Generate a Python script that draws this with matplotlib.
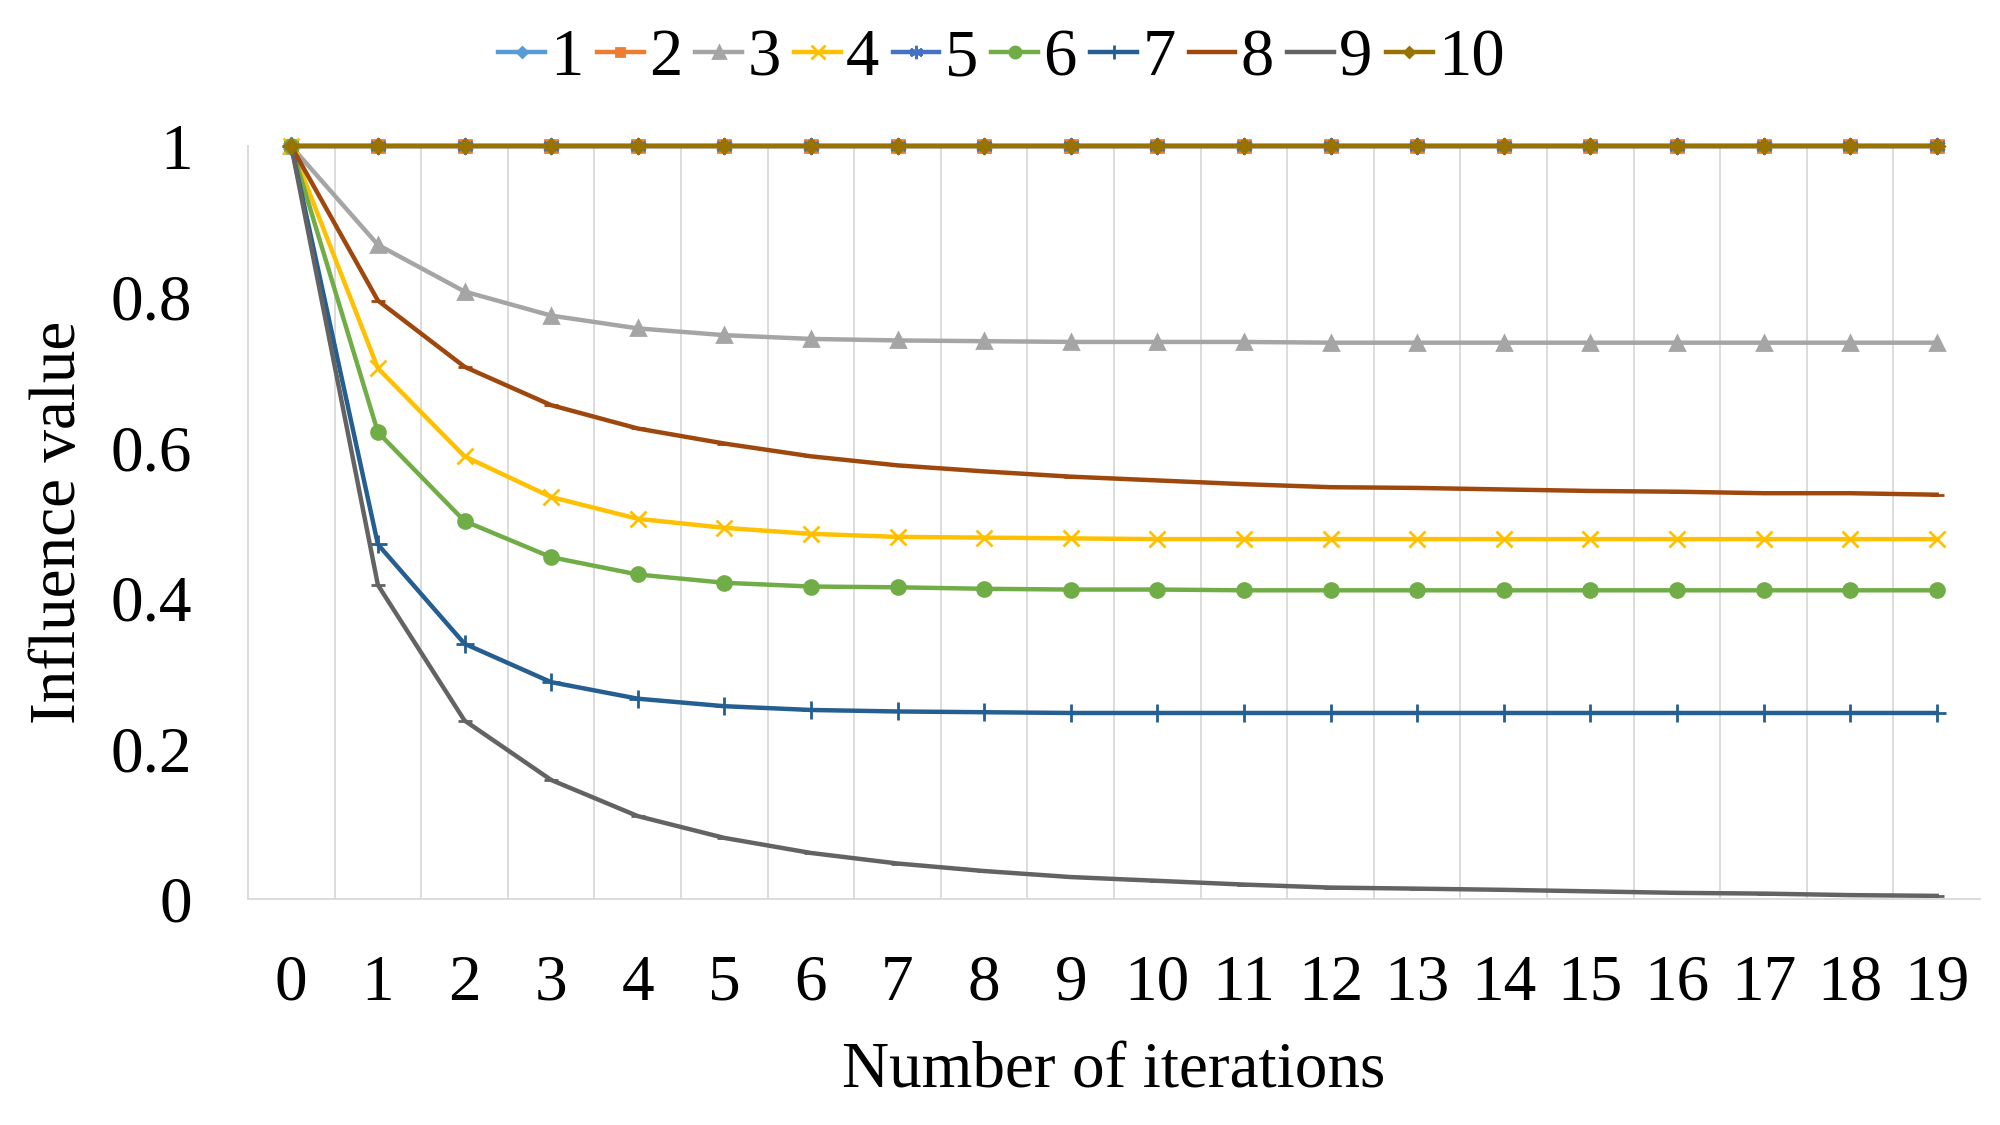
import numpy as np
import matplotlib
matplotlib.use("Agg")
import matplotlib.pyplot as plt

iterations = list(range(20))

s1 = [1.0] * 20
s2 = [1.0] * 20
s3 = [1.0, 0.869, 0.807, 0.775, 0.758, 0.749, 0.744, 0.742, 0.741, 0.740,
      0.740, 0.740, 0.739, 0.739, 0.739, 0.739, 0.739, 0.739, 0.739, 0.739]
s4 = [1.0, 0.705, 0.588, 0.534, 0.505, 0.493, 0.485, 0.481, 0.480, 0.479,
      0.478, 0.478, 0.478, 0.478, 0.478, 0.478, 0.478, 0.478, 0.478, 0.478]
s5 = [1.0] * 20
s6 = [1.0, 0.620, 0.502, 0.454, 0.431, 0.420, 0.415, 0.414, 0.412, 0.411,
      0.411, 0.410, 0.410, 0.410, 0.410, 0.410, 0.410, 0.410, 0.410, 0.410]
s7 = [1.0, 0.471, 0.339, 0.288, 0.266, 0.256, 0.251, 0.249, 0.248, 0.247,
      0.247, 0.247, 0.247, 0.247, 0.247, 0.247, 0.247, 0.247, 0.247, 0.247]
s8 = [1.0, 0.795, 0.707, 0.656, 0.625, 0.605, 0.588, 0.576, 0.568, 0.561,
      0.556, 0.551, 0.547, 0.546, 0.544, 0.542, 0.541, 0.539, 0.539, 0.537]
s9 = [1.0, 0.417, 0.237, 0.158, 0.110, 0.081, 0.061, 0.047, 0.037, 0.029,
      0.024, 0.019, 0.015, 0.0136, 0.012, 0.010, 0.008, 0.007, 0.005, 0.004]
s10 = [1.0] * 20

series = [s1, s2, s3, s4, s5, s6, s7, s8, s9, s10]
names = ["1", "2", "3", "4", "5", "6", "7", "8", "9", "10"]
colors = ["#5B9BD5", "#ED7D31", "#A5A5A5", "#FFC000", "#4472C4",
          "#70AD47", "#255E91", "#9E480E", "#636363", "#997300"]
markers = ["D", "s", "^", "x", (6, 2, 0), "o", "+", "_", "_", "D"]
msizes = [7, 8, 10, 12, 12, 10, 13, 10, 10, 7]

plt.rcParams["font.family"] = ["Liberation Serif", "DejaVu Serif"]

fig = plt.figure(figsize=(20, 11.25), dpi=100)
ax = fig.add_axes([0.124, 0.201, 0.866, 0.669])

for y, name, c, m, ms in zip(series, names, colors, markers, msizes):
    ax.plot(iterations, y, color=c, marker=m, markersize=ms, lw=3.2,
            markeredgewidth=2, label=name, clip_on=False)

ax.set_xlim(-0.5, 19.5)
ax.set_ylim(0, 1)
ax.set_xticks(iterations)
ax.set_xticks(np.arange(0.5, 19, 1), minor=True)
ax.set_yticks([0, 0.2, 0.4, 0.6, 0.8, 1])
ax.set_yticklabels(["0", "0.2", "0.4", "0.6", "0.8", "1"])
ax.grid(axis="x", which="minor", color="#D9D9D9", lw=1.3)
ax.tick_params(axis="both", which="both", length=0, labelsize=47)
ax.tick_params(axis="x", pad=40)
ax.tick_params(axis="y", pad=40)
for s in ["top", "right"]:
    ax.spines[s].set_visible(False)
for s in ["left", "bottom"]:
    ax.spines[s].set_color("#D9D9D9")
    ax.spines[s].set_linewidth(1.3)

ax.set_xlabel("Number of iterations", fontsize=47, labelpad=20)
ax.set_ylabel("Influence value", fontsize=47, labelpad=16)

ax.legend(loc="lower center", bbox_to_anchor=(0.435, 1.04), ncol=10, frameon=False,
          fontsize=48, handlelength=0.7, handletextpad=0.08, columnspacing=0.2,
          borderaxespad=0, markerscale=0.8)

fig.savefig("out.png", dpi=100)
